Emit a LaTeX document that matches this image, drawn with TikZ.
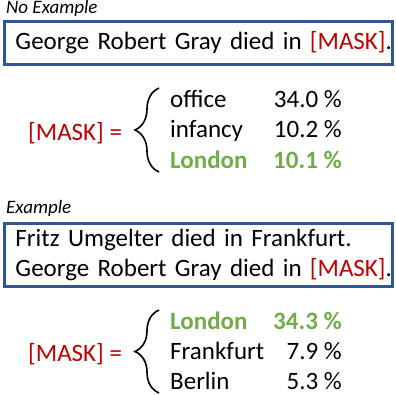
\documentclass[tikz,border=0pt]{standalone}
\usepackage{fontspec}
\setmainfont{Carlito}
\usetikzlibrary{positioning, decorations.pathreplacing}
\definecolor{maskred}{RGB}{192,0,0}
\definecolor{hitgreen}{RGB}{112,173,71}
\definecolor{boxblue}{RGB}{47,85,151}

\begin{document}
\begin{tikzpicture}[
  x=1pt, y=-1pt,
  font=\fontsize{25}{30}\selectfont,
  sentbox/.style={draw=boxblue, line width=3pt, minimum width=388pt, text width=365pt, align=left, inner xsep=11.5pt, inner ysep=0pt},
  tag/.style={font=\fontsize{19}{22}\selectfont\itshape, anchor=base west, inner sep=0pt},
  word/.style={anchor=base west, inner sep=0pt},
  score/.style={anchor=base east, inner sep=0pt},
  mask/.style={anchor=base west, inner sep=0pt, text=maskred},
  hit/.style={text=hitgreen, font=\fontsize{25}{30}\selectfont\bfseries},
  curly/.style={decorate, decoration={brace, amplitude=24pt}, line width=1.6pt},
]
\useasboundingbox (0,0) rectangle (396,394);

% without example
\node[tag] (tagA) at (6,13) {No Example};
\node[sentbox, minimum height=43pt, anchor=north west] (boxA) at (2.5,19.5)
    {\mbox{George Robert Gray died in \textcolor{maskred}{[MASK]}.}};
\node[mask] (maskA) at (28,140) {[MASK] =};
\node[word] (wA1) at (170,107) {office};
\node[score] (sA1) at (342,107) {34.0 \%};
\node[word] (wA2) at (170,137.5) {infancy};
\node[score] (sA2) at (342,137.5) {10.2 \%};
\node[word, hit] (wA3) at (170,168) {London};
\node[score, hit] (sA3) at (342,168) {10.1 \%};
\coordinate (braceAtop) at (159,88);
\coordinate (braceAbot) at (159,172);
\draw[curly] (braceAbot) -- (braceAtop);

% with example
\node[tag] (tagB) at (6,213) {Example};
\node[sentbox, minimum height=63pt, anchor=north west] (boxB) at (2.5,221.5)
    {\mbox{Fritz Umgelter died in Frankfurt.}\\
     \mbox{George Robert Gray died in \textcolor{maskred}{[MASK]}.}};
\node[mask] (maskB) at (28,361) {[MASK] =};
\node[word, hit] (wB1) at (170,329) {London};
\node[score, hit] (sB1) at (342,329) {34.3 \%};
\node[word] (wB2) at (170,359) {Frankfurt};
\node[score] (sB2) at (342,359) {7.9 \%};
\node[word] (wB3) at (170,389) {Berlin};
\node[score] (sB3) at (342,389) {5.3 \%};
\coordinate (braceBtop) at (159,310);
\coordinate (braceBbot) at (159,393);
\draw[curly] (braceBbot) -- (braceBtop);
\end{tikzpicture}
\end{document}
